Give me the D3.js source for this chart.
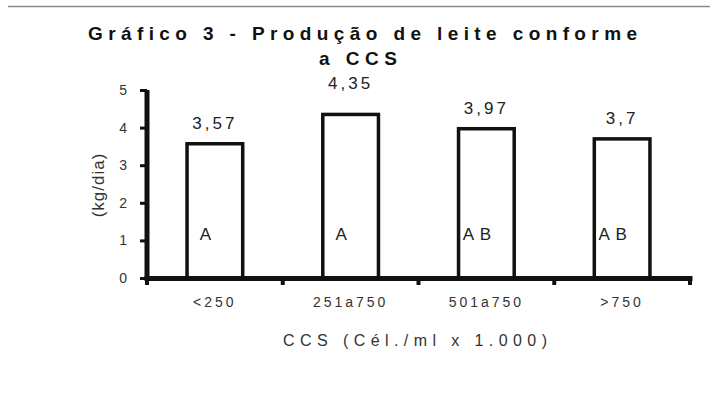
<!DOCTYPE html>
<html><head><meta charset="utf-8">
<script src="https://cdn.jsdelivr.net/npm/d3@7/dist/d3.min.js"></script>
<style>
body{margin:0;background:#fff;}
svg{display:block;font-family:"Liberation Sans",Arial,sans-serif;}
</style></head>
<body>
<script>
const categories = ["<250", "251a750", "501a750", ">750"];
const values = [3.57, 4.35, 3.97, 3.7];
const valueLabels = ["3,57", "4,35", "3,97", "3,7"];
const groupLetters = ["A", "A", "A B", "A B"];
const yTicks = [0, 1, 2, 3, 4, 5];

const W = 710, H = 396;
const svg = d3.select("body").append("svg").attr("width", W).attr("height", H);
const m = {left: 147, right: 20, top: 90, bottom: 118};
const plotW = 690 - m.left, plotH = 278 - m.top;

// scan line at top
svg.append("line").attr("x1", 8).attr("x2", 710).attr("y1", 6.5).attr("y2", 6.5)
  .attr("stroke", "#8a8a8a").attr("stroke-width", 1.5);

const x = d3.scaleBand().domain(categories).range([m.left, m.left + plotW]).paddingInner(0.59).paddingOuter(0.295);
const y = d3.scaleLinear().domain([0, 5]).range([m.top + plotH, m.top]);

// title
svg.append("text").attr("x", 88).attr("y", 40).attr("textLength", 549).attr("lengthAdjust", "spacing")
  .attr("font-size", 19).attr("font-weight", "bold").attr("fill", "#111")
  .text("Gráfico 3 - Produção de leite conforme");
svg.append("text").attr("x", 319).attr("y", 65).attr("textLength", 78).attr("lengthAdjust", "spacing")
  .attr("font-size", 19).attr("font-weight", "bold").attr("fill", "#111")
  .text("a CCS");

// bars
svg.append("g").selectAll("rect").data(values).join("rect")
  .attr("x", (d, i) => x(categories[i]))
  .attr("y", d => y(d))
  .attr("width", x.bandwidth())
  .attr("height", d => y(0) - y(d))
  .attr("fill", "#fff").attr("stroke", "#111").attr("stroke-width", 3.5);

// value labels
const maxV = d3.max(values);
svg.append("g").selectAll("text").data(values).join("text")
  .attr("x", (d, i) => x(categories[i]) + x.bandwidth() / 2)
  .attr("y", d => y(d) - (d === maxV ? 25 : 15))
  .attr("text-anchor", "middle").attr("font-size", 17).attr("fill", "#222")
  .style("letter-spacing", "3px")
  .text((d, i) => valueLabels[i]);

// group letters
svg.append("g").selectAll("text").data(groupLetters).join("text")
  .attr("x", (d, i) => x(categories[i]) + x.bandwidth() / 2 - 9)
  .attr("y", 240)
  .attr("text-anchor", "middle").attr("font-size", 17).attr("fill", "#222")
  .style("letter-spacing", "1px")
  .text(d => d);

// y axis
const yAxis = svg.append("g").attr("transform", `translate(${m.left},0)`)
  .call(d3.axisLeft(y).tickValues(yTicks).tickFormat(d3.format("d")).tickSize(7).tickSizeOuter(0).tickPadding(13));
yAxis.select(".domain").remove();
yAxis.selectAll(".tick line").attr("stroke", "#111").attr("stroke-width", 3);
yAxis.selectAll(".tick text").attr("font-size", 14).attr("fill", "#333").attr("font-family", "Liberation Sans, Arial, sans-serif");

// x axis
const xAxis = svg.append("g").attr("transform", `translate(0,${y(0)})`)
  .call(d3.axisBottom(x).tickSize(0).tickSizeOuter(0).tickPadding(19));
xAxis.select(".domain").remove();
xAxis.selectAll(".tick text").attr("font-size", 14).attr("fill", "#333")
  .attr("font-family", "Liberation Sans, Arial, sans-serif").style("letter-spacing", "3px");

// thick axis lines
const [y0, y1] = y.range();
const [x0, x1] = x.range();
svg.append("rect").attr("x", x0 - 2.5).attr("y", y1).attr("width", 5).attr("height", y0 - y1 + 2).attr("fill", "#111");
svg.append("rect").attr("x", x0 - 2.5).attr("y", y0 - 2).attr("width", x1 - x0 + 5).attr("height", 5).attr("fill", "#111");

// boundary ticks
const bounds = categories.map((c, i) => x0 + (i + 1) * (x1 - x0) / categories.length);
svg.append("g").selectAll("line").data([x0].concat(bounds)).join("line")
  .attr("x1", d => d).attr("x2", d => d).attr("y1", y0).attr("y2", y0 + 7)
  .attr("stroke", "#111").attr("stroke-width", 4);

// axis titles
svg.append("text").attr("x", 283).attr("y", 346).attr("textLength", 264).attr("lengthAdjust", "spacing")
  .attr("font-size", 16).attr("fill", "#333").text("CCS (Cél./ml x 1.000)");
svg.append("text").attr("transform", "translate(104,185) rotate(-90)")
  .attr("text-anchor", "middle").attr("font-size", 17).attr("fill", "#333")
  .style("letter-spacing", "1px").text("(kg/dia)");
</script>
</body></html>
